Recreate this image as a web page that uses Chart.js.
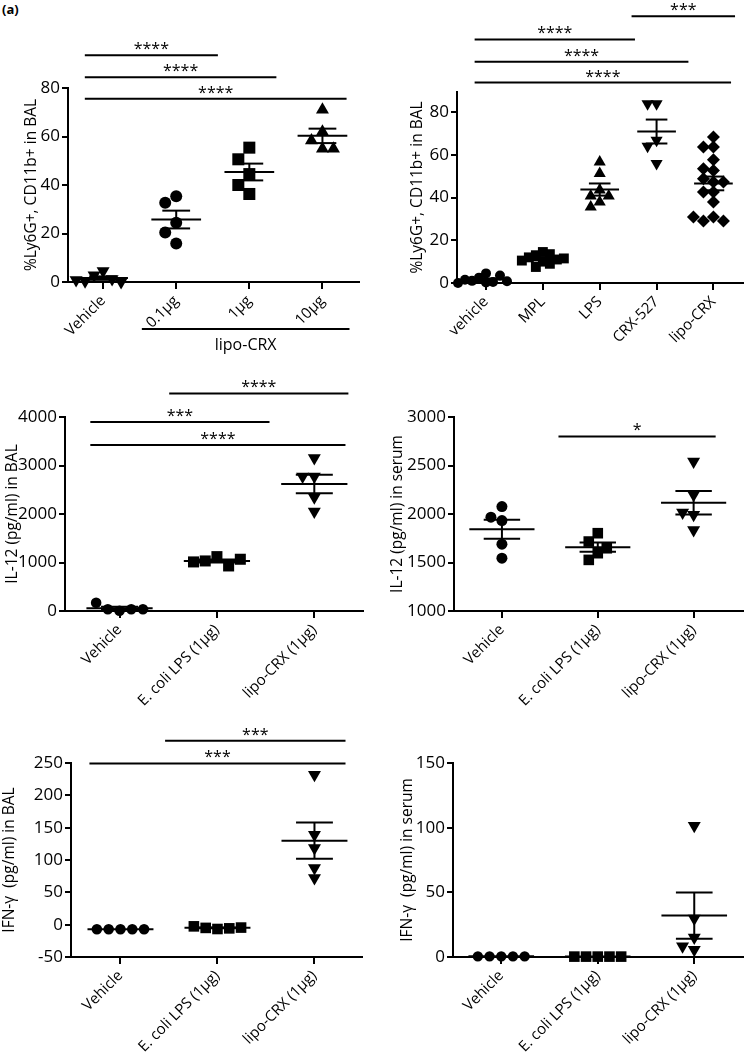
<!DOCTYPE html>
<html><head><meta charset="utf-8">
<script src="https://cdn.jsdelivr.net/npm/chart.js@4.4.1/dist/chart.umd.min.js"></script>
<style>
html,body{margin:0;padding:0;background:#fff;}
#wrap{position:relative;width:750px;height:1054px;overflow:hidden;background:#fff;}
#lbl{position:absolute;left:2px;top:0px;font:bold 13px "Open Sans",sans-serif;color:#000;}
canvas{position:absolute;}
</style></head><body>
<div id="wrap"><div id="lbl">(a)</div></div>
<script>
// ---------- DATA ----------
// Panel 1: dose response, %Ly6G+ CD11b+ in BAL
const p1Labels = ['Vehicle', '0.1\u00b5g', '1\u00b5g', '10\u00b5g'];
const p1Vehicle = [4.5, 2.8, 1.2, 0.3, 0, 0.8];
const p1Dose01 = [35.4, 32.7, 24.4, 20.4, 15.9];
const p1Dose1 = [55.4, 50.6, 44.5, 40.0, 36.3];
const p1Dose10 = [71.0, 62.0, 58.3, 55.0, 55.0];
const p1YTicks = [0, 20, 40, 60, 80];
const p1Brackets = [
  {from: -0.25, to: 1.57, y: 93.5, label: '****'},
  {from: -0.25, to: 2.37, y: 84.4, label: '****'},
  {from: -0.25, to: 3.33, y: 75.6, label: '****'}
];

// Panel 2: adjuvants, %Ly6G+ CD11b+ in BAL
const p2Labels = ['vehicle', 'MPL', 'LPS', 'CRX-527', 'lipo-CRX'];
const p2Vehicle = [0.2, 2.5, 0.5, 4.5, 1.0, 3.5, 1.5, 0.8, 0];
const p2MPL = [14.5, 13.0, 13.5, 12.0, 11.0, 10.5, 10.0, 9.0, 7.5, 11.5];
const p2LPS = [56.6, 51.2, 43.5, 40.7, 40.7, 37.9, 35.6];
const p2CRX527 = [83.9, 83.9, 66.8, 64.0, 55.9];
const p2LipoCRX = [68.3, 63.6, 63.6, 57.7, 53.5, 52.7, 48.8, 47.3, 47.3, 42.6, 42.6, 37.9, 30.9, 29.0, 29.0, 30.9];
const p2YTicks = [0, 20, 40, 60, 80];
const p2Brackets = [
  {from: 2.56, to: 4.38, y: 124.8, label: '***'},
  {from: -0.2, to: 2.62, y: 114.0, label: '****'},
  {from: -0.2, to: 3.56, y: 103.6, label: '****'},
  {from: -0.2, to: 4.31, y: 93.8, label: '****'}
];

// Shared category labels for panels 3-6
const cytoLabels = ['Vehicle', 'E. coli LPS (1\u00b5g)', 'lipo-CRX (1\u00b5g)'];

// Panel 3: IL-12 in BAL
const p3Vehicle = [6, 35, 35, 171, 35];
const p3Ecoli = [1121, 1032, 929, 1012, 1067];
const p3Lipo = [3153, 2774, 2774, 2347, 2051];
const p3YTicks = [0, 1000, 2000, 3000, 4000];
const p3Brackets = [
  {from: 0.51, to: 2.35, y: 4487, label: '****'},
  {from: -0.3, to: 1.54, y: 3896, label: '***'},
  {from: -0.3, to: 2.32, y: 3421, label: '****'}
];

// Panel 4: IL-12 in serum
const p4Vehicle = [2077, 1932, 1967, 1689, 1544];
const p4Ecoli = [1802, 1716, 1596, 1527, 1647];
const p4Lipo = [2542, 2198, 1991, 2015, 1836];
const p4YTicks = [1000, 1500, 2000, 2500, 3000];
const p4Brackets = [
  {from: 0.59, to: 2.23, y: 2800, label: '*'}
];

// Panel 5: IFN-gamma in BAL
const p5Vehicle = [-7, -7, -7, -7, -7];
const p5Ecoli = [-6.7, -5.0, -5.7, -2.6, -4.5];
const p5Lipo = [232, 139, 118.6, 87.7, 72];
const p5YTicks = [-50, 0, 50, 100, 150, 200, 250];
const p5Brackets = [
  {from: 0.46, to: 2.32, y: 284.5, label: '***'},
  {from: -0.32, to: 2.32, y: 249.4, label: '***'}
];

// Panel 6: IFN-gamma in serum
const p6Vehicle = [0.5, 0.5, 0.5, 0.5, 0.5];
const p6Ecoli = [0.3, 0.3, 0.3, 0.3, 0.3];
const p6Lipo = [101.4, 29.8, 15.0, 5.7, 8.3];
const p6YTicks = [0, 50, 100, 150];

// ---------- DRAWING ----------
const FONT = '"Open Sans", sans-serif';
Chart.defaults.font.family = FONT;
Chart.defaults.color = '#000';
const wrap = document.getElementById('wrap');

const statsPlugin = {
  id: 'stats',
  afterDatasetsDraw(chart) {
    const ctx = chart.ctx, xs = chart.scales.x, ys = chart.scales.y;
    const seg = (x1, y1, x2, y2) => {
      ctx.beginPath();
      ctx.moveTo(xs.getPixelForValue(x1), ys.getPixelForValue(y1));
      ctx.lineTo(xs.getPixelForValue(x2), ys.getPixelForValue(y2));
      ctx.stroke();
    };
    ctx.save();
    ctx.strokeStyle = '#000'; ctx.lineWidth = 2;
    chart.data.datasets.forEach(ds => {
      const v = ds.values, n = v.length;
      const m = v.reduce((a, b) => a + b, 0) / n;
      const sd = Math.sqrt(v.reduce((a, b) => a + (b - m) * (b - m), 0) / (n - 1));
      const se = sd / Math.sqrt(n);
      const c = ds.cat;
      seg(c - 0.34, m, c + 0.34, m);
      if (se > 0) {
        seg(c, m - se, c, m + se);
        seg(c - 0.19, m + se, c + 0.19, m + se);
        seg(c - 0.19, m - se, c + 0.19, m - se);
      }
    });
    ctx.restore();
  },
  afterDraw(chart, args, opts) {
    const ctx = chart.ctx, xs = chart.scales.x, ys = chart.scales.y;
    ctx.save();
    ctx.strokeStyle = '#000'; ctx.fillStyle = '#000'; ctx.lineWidth = 2;
    (opts.brackets || []).forEach(b => {
      const x1 = xs.getPixelForValue(b.from), x2 = xs.getPixelForValue(b.to), y = ys.getPixelForValue(b.y);
      ctx.beginPath(); ctx.moveTo(x1, y); ctx.lineTo(x2, y); ctx.stroke();
      ctx.font = '16px ' + FONT; ctx.textAlign = 'center'; ctx.textBaseline = 'alphabetic';
      ctx.fillText(b.label, (x1 + x2) / 2, y - 1);
    });
    if (opts.group) {
      const g = opts.group;
      const x1 = xs.getPixelForValue(g.from), x2 = xs.getPixelForValue(g.to);
      const y = chart.chartArea.bottom + 47;
      ctx.beginPath(); ctx.moveTo(x1, y); ctx.lineTo(x2, y); ctx.stroke();
      ctx.font = '16px ' + FONT; ctx.textAlign = 'center'; ctx.textBaseline = 'middle';
      ctx.fillText(g.label, (x1 + x2) / 2, y + 16);
    }
    ctx.restore();
  }
};

function swarm(chart, defStep, vth) {
  const xs = chart.scales.x, ys = chart.scales.y;
  const unit = xs.getPixelForValue(1) - xs.getPixelForValue(0);
  chart.data.datasets.forEach(ds => {
    const placed = [];
    const step = ds.step || defStep;
    ds.data = ds.values.map(v => {
      const py = ys.getPixelForValue(v);
      let off = 0;
      for (let k = 0; k < 60; k++) {
        const c = k === 0 ? 0 : (k % 2 ? -1 : 1) * Math.ceil(k / 2);
        const ox = c * step;
        if (!placed.some(p => Math.abs(p.ox - ox) < step * 0.99 && Math.abs(p.py - py) < vth)) { off = ox; break; }
      }
      placed.push({ox: off, py});
      return {x: ds.cat + off / unit, y: v};
    });
  });
  chart.update('none');
}

function panel(p) {
  const [L, T, W, H] = p.box;
  const cv = document.createElement('canvas');
  cv.width = W; cv.height = H;
  cv.style.left = L + 'px'; cv.style.top = T + 'px';
  cv.style.width = W + 'px'; cv.style.height = H + 'px';
  wrap.appendChild(cv);
  const datasets = p.groups.map((vals, i) => ({
    values: vals, cat: i, step: p.markers[i].step,
    data: vals.map(v => ({x: i, y: v})),
    pointStyle: p.markers[i].s, pointRadius: p.markers[i].r, pointHoverRadius: p.markers[i].r,
    pointRotation: p.markers[i].rot || 0,
    pointBackgroundColor: '#000', pointBorderColor: '#000', pointBorderWidth: 0,
    showLine: false, clip: false
  }));
  const zeroPad = s => { s.paddingLeft = 0; s.paddingRight = 0; s.paddingTop = 0; s.paddingBottom = 0; };
  const chart = new Chart(cv, {
    type: 'scatter',
    data: {datasets},
    options: {
      responsive: false, animation: false, events: [],
      layout: {padding: {left: 0, top: p.padTop, right: p.padRight, bottom: 0}},
      plugins: {legend: {display: false}, tooltip: {enabled: false},
        stats: {brackets: p.brackets, group: p.group}},
      scales: {
        x: {
          type: 'linear', min: p.xr[0], max: p.xr[1],
          afterBuildTicks: s => { s.ticks = p.labels.map((_, i) => ({value: i})); },
          afterFit: s => { s.height = p.xH; zeroPad(s); },
          border: {display: true, color: '#000', width: 2},
          grid: {display: true, drawOnChartArea: false, drawTicks: true, tickLength: 7, color: '#000', lineWidth: 2},
          ticks: {autoSkip: false, maxRotation: 45, minRotation: 45, padding: 3, color: '#000',
            font: {size: 15}, callback: v => p.labels[v]}
        },
        y: {
          type: 'linear', min: p.yr[0], max: p.yr[1],
          afterBuildTicks: s => { s.ticks = p.yTicks.map(v => ({value: v})); },
          afterFit: s => { s.width = p.yW; zeroPad(s); },
          border: {display: true, color: '#000', width: 2},
          grid: {display: true, drawOnChartArea: false, drawTicks: true, tickLength: 6, color: '#000', lineWidth: 2},
          ticks: {padding: 2, color: '#000', font: {size: 17}, callback: v => String(v)},
          title: {display: true, text: p.yTitle, color: '#000', font: {size: 15.5},
            padding: {top: p.titlePad, bottom: 0}}
        }
      }
    },
    plugins: [statsPlugin]
  });
  swarm(chart, p.step, p.vth);
  return chart;
}

const circ = (r, step) => ({s: 'circle', r, step});
const sq = (r, step) => ({s: 'rect', r, step});
const tri = (r, step) => ({s: 'triangle', r, step});
const inv = (r, step) => ({s: 'triangle', r, rot: 180, step});
const dia = (r, step) => ({s: 'rectRot', r, step});

panel({
  box: [0, 0, 375, 370], yW: 68, padTop: 88, padRight: 16, xH: 88, titlePad: 22,
  xr: [-0.48, 3.5], yr: [0, 80], yTicks: p1YTicks, labels: p1Labels,
  yTitle: '%Ly6G+, CD11b+ in BAL',
  groups: [p1Vehicle, p1Dose01, p1Dose1, p1Dose10],
  markers: [inv(7.5, 9), circ(6), sq(8.5), tri(7.5)],
  brackets: p1Brackets, group: {from: 0.53, to: 3.37, label: 'lipo-CRX'},
  step: 11, vth: 12
});
panel({
  box: [375, 0, 375, 370], yW: 82, padTop: 92, padRight: 2, xH: 87, titlePad: 33,
  xr: [-0.51, 4.52], yr: [0, 89.4], yTicks: p2YTicks, labels: p2Labels,
  yTitle: '%Ly6G+, CD11b+ in BAL',
  groups: [p2Vehicle, p2MPL, p2LPS, p2CRX527, p2LipoCRX],
  markers: [circ(5, 7), sq(7, 7), tri(7), inv(7), dia(6.5, 10)],
  brackets: p2Brackets, step: 9, vth: 9
});
panel({
  box: [0, 360, 375, 370], yW: 65, padTop: 57, padRight: 12, xH: 119, titlePad: 3,
  xr: [-0.56, 2.5], yr: [0, 4000], yTicks: p3YTicks, labels: cytoLabels,
  yTitle: 'IL-12 (pg/ml) in BAL',
  groups: [p3Vehicle, p3Ecoli, p3Lipo],
  markers: [circ(5.3), sq(7.8), inv(7.5)],
  brackets: p3Brackets, step: 11.7, vth: 11
});
panel({
  box: [375, 360, 375, 370], yW: 79, padTop: 57, padRight: 3, xH: 119, titlePad: 13,
  xr: [-0.5, 2.51], yr: [1000, 3000], yTicks: p4YTicks, labels: cytoLabels,
  yTitle: 'IL-12 (pg/ml) in serum',
  groups: [p4Vehicle, p4Ecoli, p4Lipo],
  markers: [circ(5.5), sq(7.5, 9), inv(7.5)],
  brackets: p4Brackets, step: 11, vth: 10
});
panel({
  box: [0, 720, 375, 334], yW: 71, padTop: 43, padRight: 13, xH: 97, titlePad: 0,
  xr: [-0.51, 2.49], yr: [-50, 250], yTicks: p5YTicks, labels: cytoLabels,
  yTitle: 'IFN-\u03b3  (pg/ml) in BAL',
  groups: [p5Vehicle, p5Ecoli, p5Lipo],
  markers: [circ(5.3), sq(7.5), inv(7.5)],
  brackets: p5Brackets, step: 11.8, vth: 10
});
panel({
  box: [375, 720, 375, 334], yW: 78, padTop: 43, padRight: 5, xH: 97, titlePad: 23,
  xr: [-0.5, 2.5], yr: [0, 150], yTicks: p6YTicks, labels: cytoLabels,
  yTitle: 'IFN-\u03b3  (pg/ml) in serum',
  groups: [p6Vehicle, p6Ecoli, p6Lipo],
  markers: [circ(5.2), sq(7.5), inv(7.5)],
  brackets: [], step: 11.7, vth: 10
});
</script></body></html>
